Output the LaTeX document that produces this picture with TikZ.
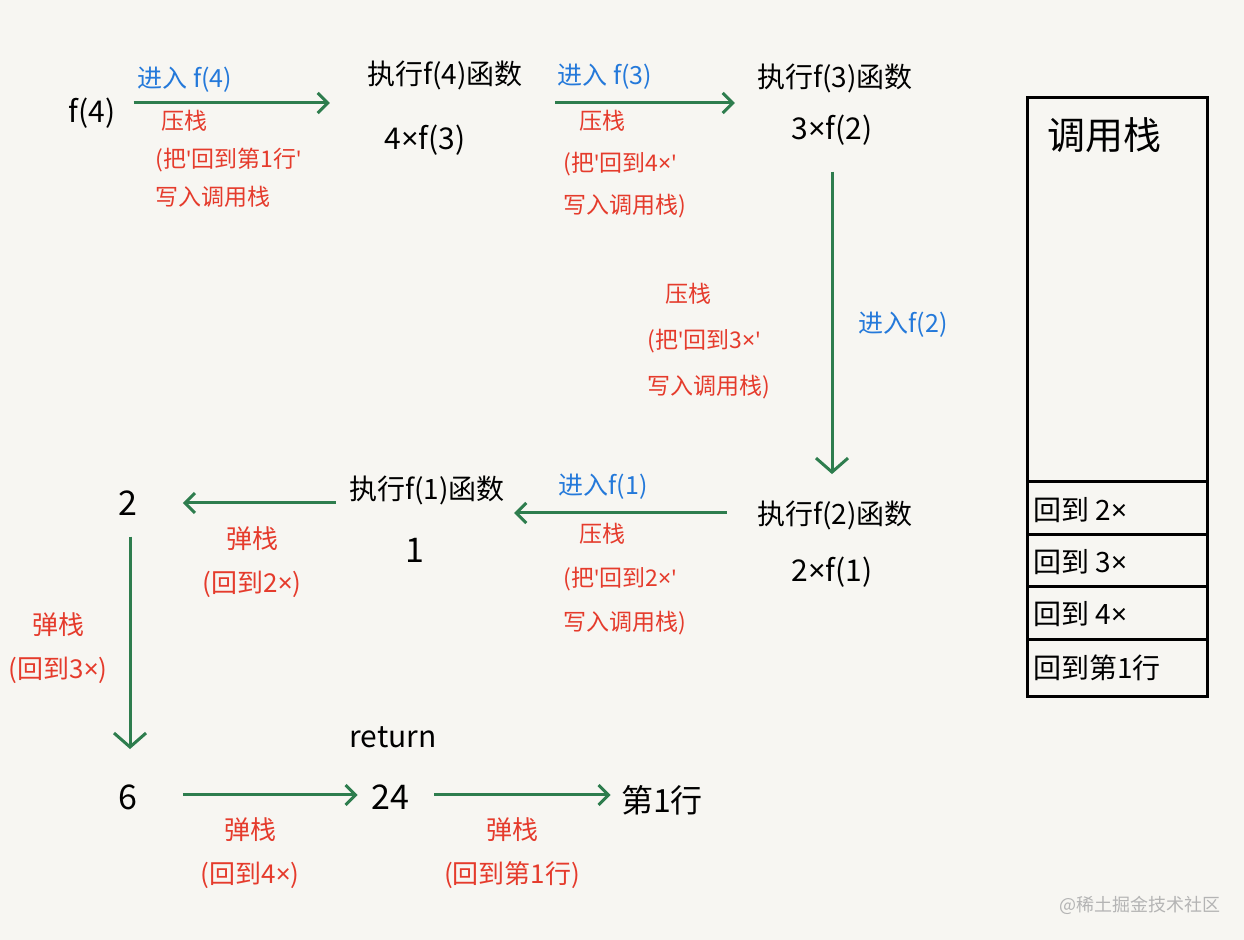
\documentclass[tikz,border=0pt]{standalone}
\usepackage{fontspec}
\setmainfont{Noto Sans CJK SC}
\newfontfamily\lat{Noto Sans}
\newcommand{\tm}{{\lat ×}}
\newcommand{\qt}{{\lat '}}
\usetikzlibrary{arrows.meta,calc}
\definecolor{bg}{HTML}{F7F6F2}
\definecolor{lgreen}{HTML}{2E7D4E}
\definecolor{lblue}{HTML}{2479DA}
\definecolor{lred}{HTML}{E53B2C}
\definecolor{wm}{HTML}{B4B4B4}
\tikzset{
  txt/.style={inner sep=0pt, anchor=center, text=black},
  mainlbl/.style={txt, font=\fontsize{14}{16}\selectfont},
  exprlbl/.style={txt, font=\fontsize{15}{18}\selectfont},
  numlbl/.style={txt, font=\fontsize{17}{20}\selectfont},
  bluelbl/.style={txt, text=lblue, font=\fontsize{12.5}{15}\selectfont},
  pushlbl/.style={txt, text=lred, align=left, font=\fontsize{11.5}{19}\selectfont},
  poplbl/.style={txt, text=lred, align=center, font=\fontsize{13}{22}\selectfont},
  stacklbl/.style={txt, anchor=west, font=\fontsize{14}{16}\selectfont},
  arr/.style={draw=lgreen, line width=1.5pt, -{Straight Barb[length=5pt,width=10pt]}},
  varr/.style={arr, -{Straight Barb[length=7pt,width=16pt]}},
}
\begin{document}
\begin{tikzpicture}[x=0.5pt,y=-0.5pt]
\fill[bg] (0,0) rectangle (1244,940);
\useasboundingbox (0,0) rectangle (1244,940);

% main nodes
\node[exprlbl] (f4) at (92,113) {f(4)};
\node[mainlbl] (e4a) at (445,75) {执行f(4)函数};
\node[exprlbl] (e4b) at (425,140) {4\tm f(3)};
\node[mainlbl] (e3a) at (835,78) {执行f(3)函数};
\node[exprlbl] (e3b) at (832,130) {3\tm f(2)};
\node[mainlbl] (e2a) at (835,515) {执行f(2)函数};
\node[exprlbl] (e2b) at (832,572) {2\tm f(1)};
\node[mainlbl] (e1a) at (427,490) {执行f(1)函数};
\node[numlbl] (e1b) at (415,550) {1};
\node[numlbl] (n2) at (128,503) {2};
\node[numlbl] (n6) at (128,797) {6};
\node[exprlbl] (ret) at (393,737) {return};
\node[numlbl] (n24) at (390,797) {24};
\node[txt, font=\fontsize{16}{18}\selectfont] (line1) at (662,800) {第1行};

% blue labels
\node[bluelbl] (b4) at (185,80) {进入 f(4)};
\node[bluelbl] (b3) at (605,77) {进入 f(3)};
\node[bluelbl] (b2) at (903,325) {进入f(2)};
\node[bluelbl] (b1) at (603,487) {进入f(1)};

% push labels
\node[pushlbl, anchor=north west] (p4) at (155,110) {\hspace{3pt}压栈\\(把\qt 回到第1行\qt\\写入调用栈};
\node[pushlbl, anchor=north west, font=\fontsize{11.5}{21}\selectfont] (p3) at (563,110) {\hspace{8pt}压栈\\(把\qt 回到4\tm\qt\\写入调用栈)};
\node[pushlbl, anchor=north west, font=\fontsize{11.5}{23}\selectfont] (p2) at (647,283) {\hspace{9pt}压栈\\(把\qt 回到3\tm\qt\\写入调用栈)};
\node[pushlbl, anchor=north west, font=\fontsize{11.5}{22}\selectfont] (p1) at (563,523) {\hspace{8pt}压栈\\(把\qt 回到2\tm\qt\\写入调用栈)};

% pop labels
\node[poplbl] (q1) at (252,562) {弹栈\\(回到2\tm)};
\node[poplbl] (q2) at (58,648) {弹栈\\(回到3\tm)};
\node[poplbl] (q3) at (250,853) {弹栈\\(回到4\tm)};
\node[poplbl] (q4) at (512,853) {弹栈\\(回到第1行)};

% connectors
\draw[arr] ($(f4.east)+(18,-10)$) -- ($(e4a.west |- f4.east)+(-37,-10)$);
\draw[arr] ($(e4a.east |- f4.east)+(32,-10)$) -- ($(e3a.west |- f4.east)+(-22,-10)$);
\draw[varr] ($(e3b.south)+(0,26)$) -- ($(e3b.south |- e2a.north)+(0,-26)$);
\draw[arr] ($(e2a.west)+(-30,-2)$) -- ($(e1a.east |- e2a.west)+(9,-2)$);
\draw[arr] ($(e1a.west)+(-13,13)$) -- ($(n2.east |- e1a.west)+(45,13)$);
\draw[varr] ($(n2.south)+(2,21)$) -- ($(n2.south |- n6.north)+(2,-35)$);
\draw[arr] ($(n6.east)+(45,-2)$) -- ($(n24.west |- n6.east)+(-13,-2)$);
\draw[arr] ($(n24.east)+(25,-2)$) -- ($(line1.west |- n24.east)+(-10,-2)$);

% call stack
\draw[line width=1.5pt] (1027,98) rectangle (1207,697);
\foreach \yy in {482,535,587,640} \draw[line width=1.5pt] (1027,\yy) -- (1207,\yy);
\node[txt, font=\fontsize{19}{22}\selectfont] (st) at (1104,135) {调用栈};
\node[stacklbl] (s1) at (1033,510) {回到 2\tm};
\node[stacklbl] (s2) at (1033,562) {回到 3\tm};
\node[stacklbl] (s3) at (1033,614) {回到 4\tm};
\node[stacklbl] (s4) at (1033,668) {回到第1行};

% watermark
\node[txt, text=wm, font=\fontsize{9}{11}\selectfont] (wmk) at (1140,905) {@稀土掘金技术社区};
\end{tikzpicture}
\end{document}
